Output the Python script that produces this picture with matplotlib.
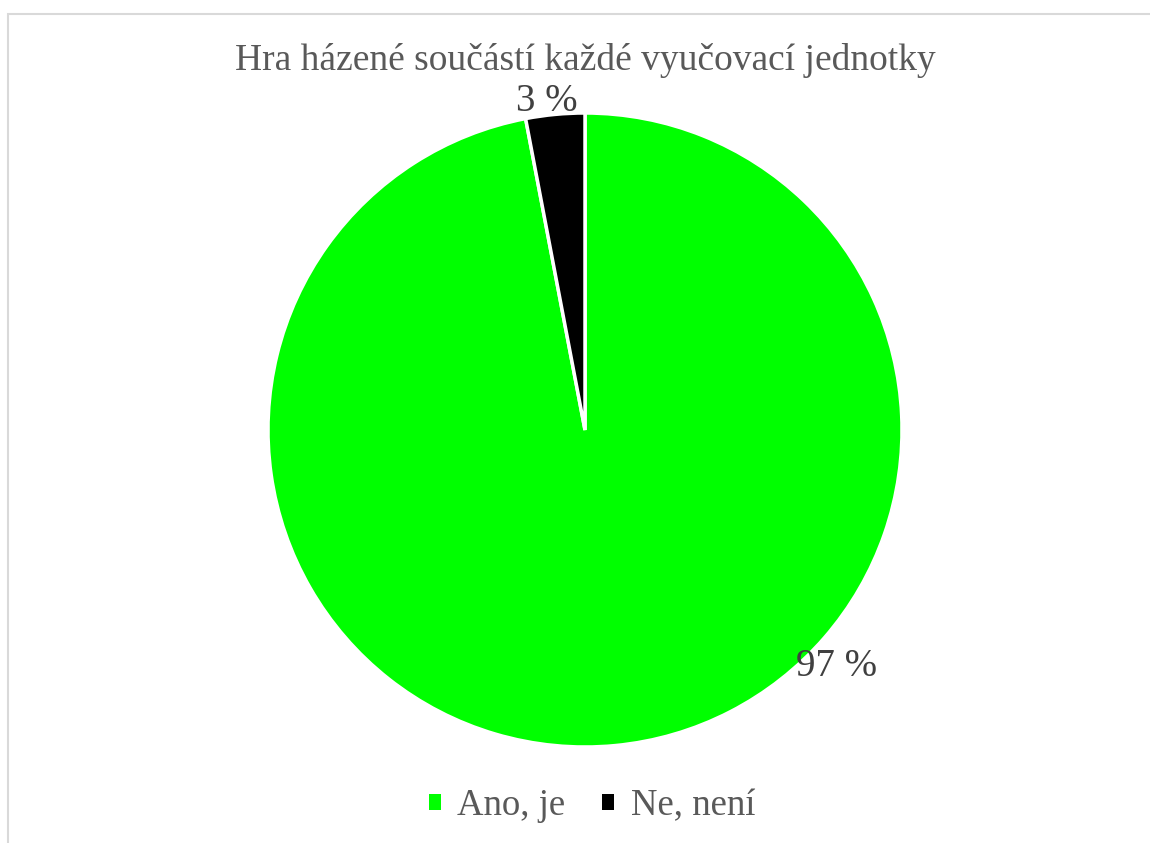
import matplotlib
matplotlib.use("Agg")
import matplotlib.pyplot as plt
from matplotlib.patches import Rectangle

title = "Hra házené součástí každé vyučovací jednotky"
categories = ["Ano, je", "Ne, není"]
values = [97, 3]
labels = ["97 %", "3 %"]
colors = ["#00FF00", "#000000"]

plt.rcParams['font.family'] = ['Liberation Serif', 'DejaVu Serif']
W, H = 1150, 843
fig = plt.figure(figsize=(W/100, H/100), dpi=100)

# chart border
fig.patches.append(Rectangle((8/W, -0.01), 1.2, (H-14.5)/H + 0.01, transform=fig.transFigure,
                             fill=False, edgecolor="#d9d9d9", linewidth=1.5))

cx, cy, r = 585, 430, 317
ax = fig.add_axes([(cx - r)/W, (H - cy - r)/H, 2*r/W, 2*r/H])
wedges, _ = ax.pie(values, colors=colors, startangle=90, counterclock=False,
                   wedgeprops=dict(edgecolor="white", linewidth=2.5), radius=1.0)
ax.set_xlim(-1, 1); ax.set_ylim(-1, 1)
ax.set_aspect("equal")

# labels
ax.text(0.795, -0.745, labels[0], ha="center", va="center", fontsize=28, color="#404040")
ax.text(-0.12, 1.035, labels[1], ha="center", va="center", fontsize=28, color="#404040")

fig.text(585/W, 1 - 60/H, title, ha="center", va="center", fontsize=27, color="#595959")

handles = [Rectangle((0, 0), 1, 1, facecolor=c) for c in colors]
fig.legend(handles, categories, loc="center", bbox_to_anchor=(592/W, 1 - 806/H), ncol=2,
           frameon=False, fontsize=26.5, labelcolor="#595959", handlelength=0.33, handleheight=0.33,
           handletextpad=0.45, columnspacing=1.0)

fig.savefig("out.png", dpi=100)
